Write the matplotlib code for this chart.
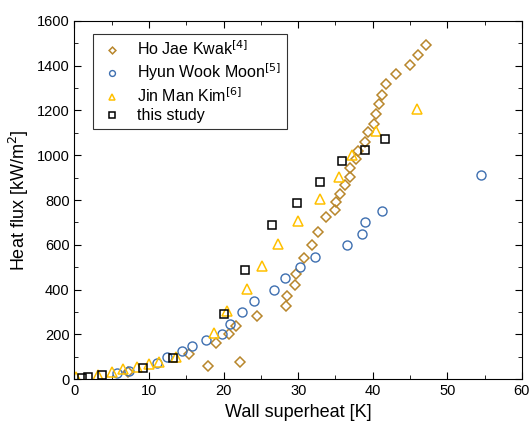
import matplotlib
matplotlib.use("Agg")
import matplotlib.pyplot as plt
from matplotlib.ticker import MultipleLocator

plt.rcParams["font.family"] = ["Liberation Sans", "DejaVu Sans"]

# Ho Jae Kwak [4]
kwak_x = [7.2, 15.3, 17.9, 19.0, 20.7, 21.6, 22.2, 24.5, 28.3, 28.5, 29.6, 29.7,
          30.8, 31.8, 32.7, 33.7, 35.0, 35.1, 35.6, 36.3, 36.9, 37.0, 37.7, 38.0,
          38.9, 39.4, 40.1, 40.4, 40.9, 41.3, 41.8, 43.1, 45.0, 46.1, 47.2]
kwak_y = [34, 113, 59, 163, 202, 239, 78, 284, 325, 373, 419, 472,
          541, 600, 658, 724, 755, 792, 826, 865, 903, 943, 981, 1019,
          1059, 1103, 1141, 1184, 1230, 1271, 1316, 1362, 1401, 1446, 1493]

# Hyun Wook Moon [5]
moon_x = [5.7, 7.3, 11.0, 12.4, 14.4, 15.7, 17.7, 19.8, 20.9, 22.4, 24.1, 26.8,
          28.2, 30.3, 32.2, 36.5, 38.5, 39.0, 41.3, 54.5]
moon_y = [29, 37, 75, 99, 125, 149, 174, 200, 249, 299, 349, 399,
          450, 499, 548, 599, 649, 700, 750, 914]

# Jin Man Kim [6]
kim_x = [0.2, 3.2, 5.0, 6.5, 8.4, 10.0, 11.4, 13.6, 18.7, 20.4, 23.1, 25.1,
         27.3, 30.0, 32.9, 35.5, 37.2, 40.4, 45.9]
kim_y = [9, 20, 32, 45, 55, 68, 78, 101, 205, 304, 405, 507,
         603, 706, 805, 903, 1003, 1107, 1208]

# this study
study_x = [0.97, 1.8, 3.7, 9.2, 13.2, 20.1, 22.9, 26.5, 29.9, 32.9, 35.9, 38.9, 41.7]
study_y = [4, 10, 18, 49, 96, 292, 490, 687, 785, 880, 976, 1025, 1071]

fig = plt.figure(figsize=(5.32, 4.33), dpi=100)
ax = fig.add_axes([0.140, 0.124, 0.841, 0.828])

ax.plot(kwak_x, kwak_y, linestyle="none", marker="D", ms=5.3, mfc="none",
        mec="#B8862B", mew=1.1, label="Ho Jae Kwak$^{[4]}$")
ax.plot(moon_x, moon_y, linestyle="none", marker="o", ms=6.5, mfc="none",
        mec="#3E6FB0", mew=1.0, label="Hyun Wook Moon$^{[5]}$")
ax.plot(kim_x, kim_y, linestyle="none", marker="^", ms=7.5, mfc="none",
        mec="#FFC000", mew=1.1, label="Jin Man Kim$^{[6]}$")
ax.plot(study_x, study_y, linestyle="none", marker="s", ms=6.3, mfc="none",
        mec="black", mew=1.1, label="this study")

ax.set_xlim(0, 60)
ax.set_ylim(0, 1600)
ax.xaxis.set_major_locator(MultipleLocator(10))
ax.xaxis.set_minor_locator(MultipleLocator(5))
ax.yaxis.set_major_locator(MultipleLocator(200))
ax.yaxis.set_minor_locator(MultipleLocator(100))
ax.tick_params(which="both", direction="in", top=True, right=True, labelsize=10.5)
ax.tick_params(which="major", length=5)
ax.tick_params(which="minor", length=3)

ax.set_xlabel("Wall superheat [K]", fontsize=13)
ax.set_ylabel("Heat flux [kW/m$^2$]", fontsize=13)

leg = ax.legend(loc="upper left", bbox_to_anchor=(0.042, 0.963), borderaxespad=0,
                fontsize=11.5, frameon=True, fancybox=False, edgecolor="black",
                handlelength=1.6, handletextpad=0.8, borderpad=0.35,
                labelspacing=0.2, markerscale=0.65)
leg.get_frame().set_linewidth(0.8)

fig.savefig("out.png", dpi=100)
